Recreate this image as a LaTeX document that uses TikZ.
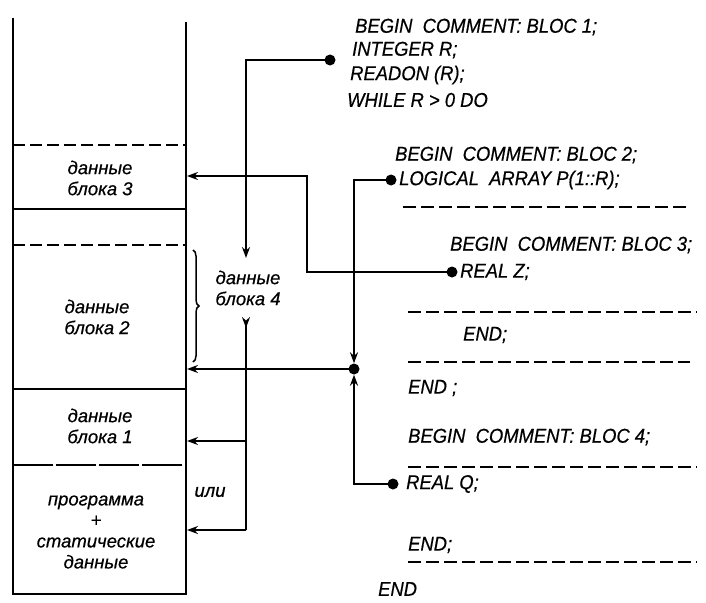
\documentclass[tikz,border=0pt]{standalone}
\usepackage{fontspec}
\setmainfont{Liberation Sans}[FakeBold=0.5]
\newfontfamily\codefont{Liberation Sans}[FakeStretch=0.92,FakeBold=0.5]
\usetikzlibrary{arrows.meta,decorations.pathreplacing}
\begin{document}
\begin{tikzpicture}[x=1pt,y=-1pt,
  wire/.style={line width=2pt},
  arr/.style={wire,-{Stealth[length=11pt,width=8pt]}},
  dot/.style={circle,fill,inner sep=0pt,minimum size=11pt},
  code/.style={anchor=west,font=\codefont\fontsize{20}{22}\selectfont\itshape,inner sep=0pt},
  ru/.style={align=center,font=\fontsize{18.5}{21}\selectfont\itshape,inner sep=0pt},
  sep/.style={line width=1.4pt,dash pattern=on 13pt off 5pt},
  mem/.style={line width=2.2pt},
  memdash/.style={mem,dash pattern=on 12pt off 5pt}]
\useasboundingbox (0,0) rectangle (706,602);

% memory column
\draw[mem] (13,18) -- (13,594) -- (186,594) -- (186,22);
\draw[memdash] (13,145) -- (186,145);
\draw[mem] (13,209) -- (186,209);
\draw[memdash] (13,245) -- (186,245);
\draw[mem] (13,389) -- (186,389);
\draw[mem,dash pattern=on 40pt off 3pt] (13,465) -- (186,465);

\node[ru] (b3) at (100,178) {данные\\блока 3};
\node[ru] (b2) at (97,317) {данные\\блока 2};
\node[ru] (b1) at (100,426) {данные\\блока 1};
\node[ru] (prog) at (96,532) {программа\\+\\статические\\данные};
\node[ru] (b4) at (248,288) {данные\\блока 4};
\node[ru] (ili) at (210,492) {или};

% brace
\draw[line width=1.5pt,decorate,decoration={brace,amplitude=6pt}] (193,250) -- (193,362);

% code
\node[code] (c1) at (355,27) {BEGIN\ \ COMMENT: BLOC 1;};
\node[code] (c2) at (352,50) {INTEGER R;};
\node[code] (c3) at (350,75) {READON (R);};
\node[code] (c4) at (347,100) {WHILE R > 0 DO};
\node[code] (c5) at (395,155) {BEGIN\ \ COMMENT: BLOC 2;};
\node[code] (c6) at (399,180) {LOGICAL\ \ ARRAY P(1::R);};
\draw[sep] (403,207) -- (688,207);
\node[code] (c7) at (450,245) {BEGIN\ \ COMMENT: BLOC 3;};
\node[code] (c8) at (460,272) {REAL Z;};
\draw[sep] (408,312) -- (697,312);
\node[code] (c9) at (463,335) {END;};
\draw[sep] (408,362) -- (690,362);
\node[code] (c10) at (408,388) {END ;};
\node[code] (c11) at (408,437) {BEGIN\ \ COMMENT: BLOC 4;};
\draw[sep] (408,467) -- (697,467);
\node[code] (c12) at (406,484) {REAL Q;};
\node[code] (c13) at (408,545) {END;};
\draw[sep] (408,562) -- (697,562);
\node[code] (c14) at (378,589) {END};

% dots
\node[dot] (d1) at (330,60) {};
\node[dot] (d2) at (391,180) {};
\node[dot] (d3) at (452,272) {};
\node[dot] (d4) at (393,484) {};
\node[dot] (dj) at (354,369) {};

% coordinates
\coordinate (t4) at (246,258);
\coordinate (k1) at (307,176);
\coordinate (m3) at (187,176);
\coordinate (m2) at (187,369);
\coordinate (m1) at (187,441);
\coordinate (mp) at (187,530);
\coordinate (s4) at (246,317);
\coordinate (k2) at (246,441);
\coordinate (k3) at (246,530);

% connectors
\draw[arr] (d1.center) -| (t4);
\draw[arr] (d3.center) -| (k1) -- (m3);
\draw[arr] (d2.center) -| (dj.north);
\draw[arr] (d4.center) -| (dj.south);
\draw[arr] (dj.center) -- (m2);
\draw[wire,{Stealth[reversed,length=11pt,width=8pt]}-] (s4) -- (k3);
\draw[arr] (k2) -- (m1);
\draw[arr] (k3) -- (mp);
\end{tikzpicture}
\end{document}
